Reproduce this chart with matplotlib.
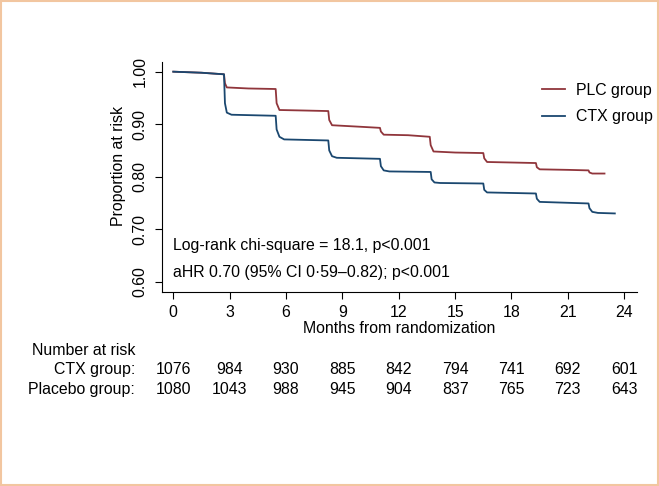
import matplotlib
matplotlib.use("Agg")
import matplotlib.pyplot as plt
from matplotlib.patches import Rectangle
from matplotlib.transforms import blended_transform_factory

plt.rcParams['font.family'] = ['Liberation Sans', 'DejaVu Sans']

# ---- data ----
plc_t = [0, 1.5, 2.7, 2.75, 2.85, 4.0, 5.45, 5.5, 5.65, 7.0, 8.25, 8.3, 8.45,
         10.0, 11.0, 11.05, 11.2, 12.5, 13.65, 13.7, 13.85, 15.0, 16.5, 16.55,
         16.7, 18.0, 19.3, 19.35, 19.5, 21.0, 22.1, 22.15, 22.3, 22.95]
plc_s = [1.000, 0.998, 0.995, 0.978, 0.970, 0.968, 0.967, 0.940, 0.927, 0.926,
         0.925, 0.908, 0.898, 0.895, 0.893, 0.886, 0.880, 0.879, 0.876, 0.860,
         0.848, 0.846, 0.845, 0.835, 0.828, 0.827, 0.826, 0.818, 0.814, 0.813,
         0.812, 0.808, 0.806, 0.806]

ctx_t = [0, 1.5, 2.7, 2.75, 2.85, 3.1, 5.45, 5.5, 5.65, 5.9, 8.25, 8.3, 8.45,
         8.7, 11.0, 11.05, 11.2, 11.5, 13.7, 13.75, 13.9, 14.2, 16.5, 16.55,
         16.7, 19.3, 19.35, 19.5, 22.1, 22.15, 22.3, 22.6, 23.5]
ctx_s = [1.000, 0.998, 0.995, 0.940, 0.922, 0.918, 0.916, 0.890, 0.876, 0.871,
         0.869, 0.850, 0.839, 0.836, 0.834, 0.820, 0.812, 0.810, 0.809, 0.795,
         0.789, 0.788, 0.787, 0.775, 0.770, 0.768, 0.758, 0.752, 0.749, 0.740,
         0.733, 0.731, 0.730]

x_ticks = [0, 3, 6, 9, 12, 15, 18, 21, 24]
y_ticks = [0.60, 0.70, 0.80, 0.90, 1.00]
y_tick_labels = ["0.60", "0.70", "0.80", "0.90", "1.00"]

risk_ctx = [1076, 984, 930, 885, 842, 794, 741, 692, 601]
risk_plc = [1080, 1043, 988, 945, 904, 837, 765, 723, 643]

series_labels = ["PLC group", "CTX group"]
row_labels = ["CTX group:", "Placebo group:"]

PLC_COLOR = "#90353b"
CTX_COLOR = "#1a476f"
FS = 11.4

W, H = 659, 486
fig = plt.figure(figsize=(W / 100, H / 100), dpi=100)
fig.patch.set_facecolor("white")

ax_l, ax_r, ax_t, ax_b = 162, 637, 61.7, 292.3
ax = fig.add_axes([ax_l / W, 1 - ax_b / H, (ax_r - ax_l) / W, (ax_b - ax_t) / H])

l1, = ax.plot(plc_t, plc_s, color=PLC_COLOR, lw=1.3, label=series_labels[0])
l2, = ax.plot(ctx_t, ctx_s, color=CTX_COLOR, lw=1.3, label=series_labels[1])

ax.set_xlim(-0.60, 24.68)
ax.set_ylim(0.5798, 1.019)
ax.spines['top'].set_visible(False)
ax.spines['right'].set_visible(False)
for s in ['left', 'bottom']:
    ax.spines[s].set_linewidth(0.8)
    ax.spines[s].set_color("#000000")

ax.set_xticks(x_ticks)
ax.set_xticklabels([str(v) for v in x_ticks], fontsize=FS)
ax.set_yticks(y_ticks)
ax.set_yticklabels(y_tick_labels, fontsize=FS, rotation=90, va='center')
ax.tick_params(axis='both', direction='out', length=5, width=0.8)
ax.tick_params(axis='x', pad=4)
ax.tick_params(axis='y', pad=5.5)

ax.set_xlabel("Months from randomization", fontsize=FS)
ax.xaxis.label.set_va('center')
ax.xaxis.set_label_coords(0.5, (ax_b - 328.5) / (ax_b - ax_t))
ax.set_ylabel("Proportion at risk", fontsize=FS)
ax.yaxis.label.set_va('center')
ax.yaxis.set_label_coords((118 - ax_l) / (ax_r - ax_l), (ax_b - 166) / (ax_b - ax_t))

ax.text(-0.03, 0.668, "Log-rank chi-square = 18.1, p<0.001", fontsize=FS, va='center', ha='left')
ax.text(-0.03, 0.617, "aHR 0.70 (95% CI 0\u00b759\u20130.82); p<0.001", fontsize=FS, va='center', ha='left')

fig.legend(handles=[l1, l2], labels=series_labels, loc='upper left',
           bbox_to_anchor=(541.7 / W, 1 - 83 / H), frameon=False, fontsize=FS,
           handlelength=1.45, handletextpad=0.72, labelspacing=0.72,
           borderpad=0, borderaxespad=0)

# number at risk table
tr = blended_transform_factory(ax.transData, fig.transFigure)
fig.text(135 / W, 1 - 350.7 / H, "Number at risk", fontsize=FS, ha='right', va='center')
fig.text(135 / W, 1 - 369.8 / H, row_labels[0], fontsize=FS, ha='right', va='center')
fig.text(135 / W, 1 - 389.5 / H, row_labels[1], fontsize=FS, ha='right', va='center')
for xv, a, b in zip(x_ticks, risk_ctx, risk_plc):
    ax.text(xv, 1 - 369.8 / H, str(a), transform=tr, fontsize=FS, ha='center', va='center')
    ax.text(xv, 1 - 389.5 / H, str(b), transform=tr, fontsize=FS, ha='center', va='center')

# outer border
fig.patches.append(Rectangle((0.75 / W, 1 - 484.5 / H), (657.5 - 0.75) / W, (484.5 - 0.75) / H,
                             transform=fig.transFigure, fill=False,
                             edgecolor="#f2c6a0", lw=1.5))

fig.savefig("out.png", dpi=100)
